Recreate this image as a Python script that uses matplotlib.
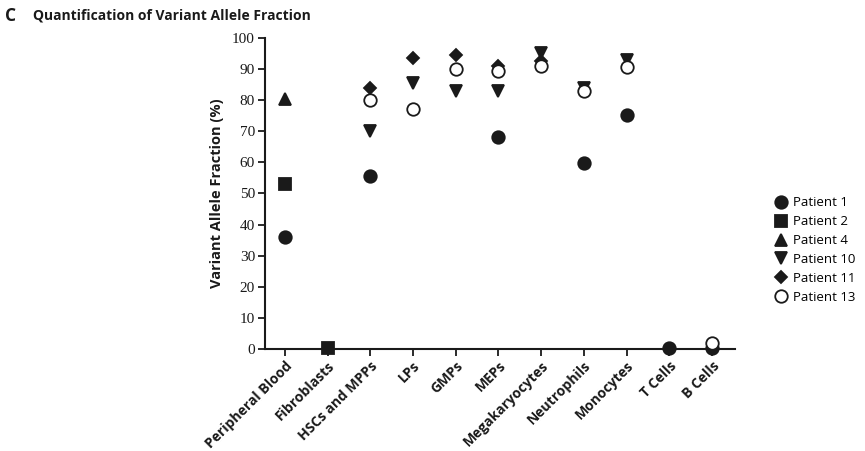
import numpy as np
import matplotlib
matplotlib.use('Agg')
import matplotlib.pyplot as plt

plt.rcParams['font.family'] = ['Open Sans', 'DejaVu Sans']

# ── DATA ───────────────────────────────────────────────────────────────────────
CELLS = ['Peripheral Blood', 'Fibroblasts', 'HSCs and MPPs', 'LPs', 'GMPs', 'MEPs',
         'Megakaryocytes', 'Neutrophils', 'Monocytes', 'T Cells', 'B Cells']

# values per patient, None = not measured
p1  = [36,   None, 55.5, None, None, 68,   None, 59.7, 75.2, 0.5,  0.5]
p2  = [53,   0.5,  None, None, None, None, None, None, None, None, None]
p4  = [80.5, None, None, None, None, None, None, None, None, None, None]
p10 = [None, None, 70,   85.5, 83,   83,   95,   84,   93,   None, None]
p11 = [None, None, 84,   93.5, 94.5, 91,   92.5, None, None, None, None]
p13 = [None, None, 80,   77,   90,   89.5, 91,   83,   90.5, None, 1.8]

PATIENTS = ['Patient 1', 'Patient 2', 'Patient 4', 'Patient 10', 'Patient 11', 'Patient 13']
SERIES   = [p1, p2, p4, p10, p11, p13]
MARKERS  = ['o', 's', '^', 'v', 'D', 'o']
SIZES    = [9, 8.5, 8.5, 9, 6.5, 9]

INK = '#1a1a1a'

fig = plt.figure(figsize=(8.65, 4.51), dpi=100)
ax = fig.add_axes([0.306, 0.226, 0.544, 0.690])

x = np.arange(len(CELLS))
for name, vals, mk, ms in zip(PATIENTS, SERIES, MARKERS, SIZES):
    xs = [xi for xi, v in zip(x, vals) if v is not None]
    ys = [v for v in vals if v is not None]
    face = 'white' if name == 'Patient 13' else INK
    ax.plot(xs, ys, linestyle='none', marker=mk, markersize=ms,
            markerfacecolor=face, markeredgecolor=INK, markeredgewidth=1.3,
            label=name, clip_on=False, zorder=3)

ax.set_xlim(-0.47, 10.54)
ax.set_ylim(0, 100)
ax.set_yticks(range(0, 101, 10))
ax.set_xticks(x)
ax.set_xticklabels(CELLS, rotation=45, ha='right', rotation_mode='anchor',
                   fontsize=10, fontweight='bold', color=INK)
for lab in ax.get_yticklabels():
    lab.set_family(['Liberation Serif'])
    lab.set_fontsize(11)
    lab.set_color(INK)

for s in ['top', 'right']:
    ax.spines[s].set_visible(False)
for s in ['left', 'bottom']:
    ax.spines[s].set_linewidth(1.5)
    ax.spines[s].set_color(INK)
ax.tick_params(axis='both', direction='out', length=5, width=1.3, color=INK, pad=2)

ax.set_ylabel('Variant Allele Fraction (%)', fontsize=10.5, fontweight='bold', color=INK,
              labelpad=6)

ax.legend(loc='center left', bbox_to_anchor=(1.069, 0.318), frameon=False,
          fontsize=9.5, handletextpad=0.3, labelspacing=0.45, borderaxespad=0,
          handlelength=1.2)

fig.text(0.006, 0.965, 'C', fontsize=12.5, fontweight='bold', color=INK, va='center')
fig.text(0.038, 0.965, 'Quantification of Variant Allele Fraction', fontsize=10,
         fontweight='bold', color=INK, va='center')

plt.savefig('out.png', dpi=100)
